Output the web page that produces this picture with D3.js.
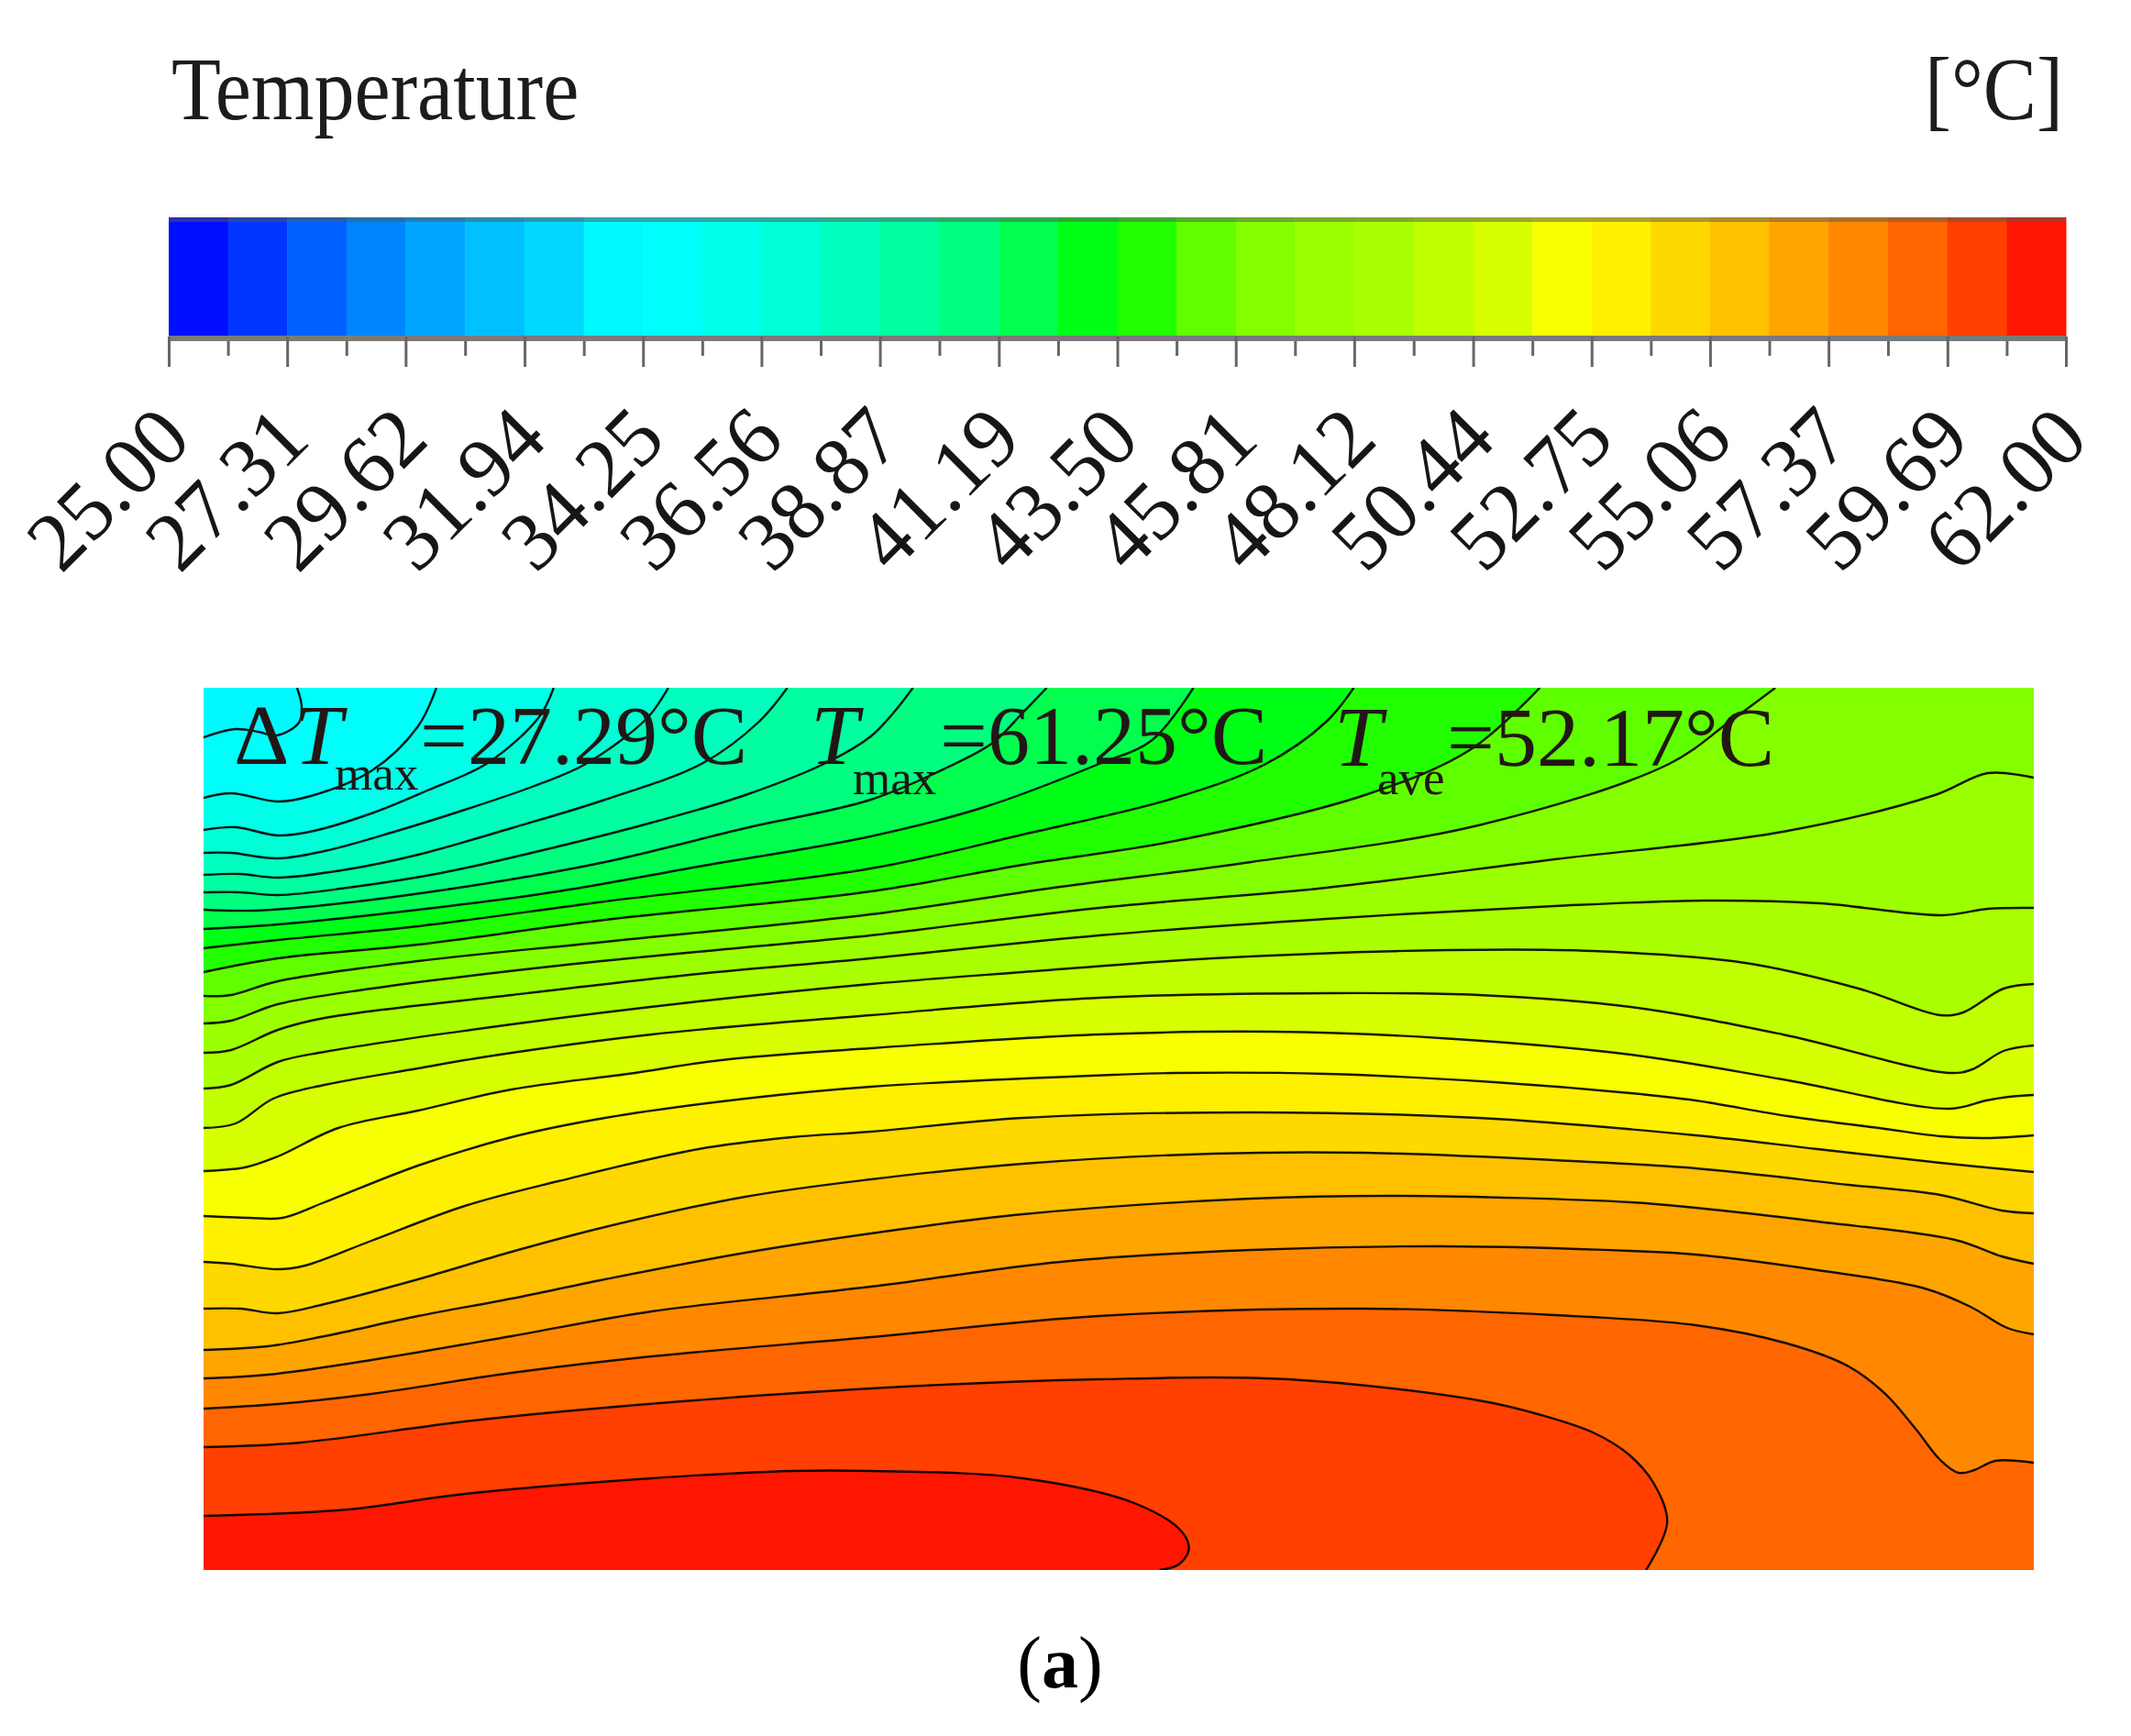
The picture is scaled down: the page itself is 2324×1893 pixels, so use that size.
<!DOCTYPE html>
<html>
<head>
<meta charset="utf-8">
<script src="https://cdn.jsdelivr.net/npm/d3@7"></script>
<style>
  body { margin: 0; background: #fff; }
  text { font-family: "Liberation Serif", serif; }
</style>
</head>
<body>
<div id="chart"></div>
<script>
// colour bar
const tickLabels = ["25.00","27.31","29.62","31.94","34.25","36.56","38.87","41.19","43.50","45.81","48.12","50.44","52.75","55.06","57.37","59.69","62.00"];
const bandColors = ["#0010ff","#0035ff","#0060ff","#0085ff","#00a5ff","#00c0ff","#00d8ff","#00f8ff",
  "#00fffa","#00ffe8","#00ffd6","#00ffbe","#00ffa0","#00ff80","#00ff50","#00ff18",
  "#20ff00","#60ff00","#84ff00","#9cff00","#aaff00","#c0ff00","#d8ff00","#f8ff00",
  "#fff000","#ffd800","#ffc000","#ffa500","#ff8800","#ff6600","#ff4000","#ff1800"];

// contour lines, [x, y] along the domain (y from the top edge)
const line01 = [[0,5.4],[3.5,4.5],[6,4.8],[8,5.2],[10.4,3.8],[10.7,2],[10.2,0]];
const line02 = [[0,12],[3,11.5],[8.1,12.4],[11.7,11.8],[18.4,9],[23.4,4.2],[25.4,0]];
const line03 = [[0,15.5],[3.5,15.2],[8.1,16.1],[11.6,15.7],[18.3,13.7],[24.4,11.2],[31,8.2],[36.6,3.2],[38.2,0]];
const line04 = [[0,18],[3,18],[8.1,18.6],[13.2,17.8],[20.8,15.7],[28.5,13.3],[36.1,10.7],[41.7,8.3],[48.4,3.3],[50.7,0]];
const line05 = [[0,20.4],[4,20.3],[8.1,20.7],[15.7,19.8],[23.4,18.2],[33.6,15.3],[43.8,12.2],[54.5,8.2],[60.6,3.7],[63.7,0]];
const line06 = [[0,22.3],[4,22.3],[8.1,22.6],[15.7,21.8],[25.9,20.2],[38.7,17.3],[48.9,14.7],[59.1,11.7],[68.3,8],[72.8,5.3],[75.3,2.7],[77.4,0]];
const line07 = [[0,24.2],[5.5,24.3],[13.2,23.7],[28.5,21.7],[43.8,19],[59.1,15.3],[72.8,12.2],[81.1,8.7],[86.1,6],[89.4,2.7],[92,0]];
const line08 = [[0,26.3],[8.1,25.8],[23.4,24.2],[38.7,22.2],[54,19.5],[72.8,16.2],[85.2,13],[97.7,8.3],[103.5,5.7],[108,0]];
const line09 = [[0,28.4],[8.1,27.5],[23.4,26],[43.8,23.3],[72.8,19.7],[89.4,16],[106,12],[115.9,8.3],[122.5,3.7],[125.5,0]];
const line10 = [[0,31],[8.1,29.5],[23.4,28],[43.8,25.3],[72.8,22.2],[89.4,19.3],[106,16.7],[126.7,11.7],[138.3,6.7],[145.8,0]];
const line11 = [[0,33.6],[3,33.5],[8.1,32],[23.4,29.8],[43.8,27.7],[72.8,24.7],[93.5,21.7],[114.3,19],[139.1,15],[159.9,8.3],[166.5,3.7],[171.5,0]];
const line12 = [[0,36.6],[3,36.3],[8.1,34.5],[18.3,32.8],[38.7,30.3],[59.1,28.3],[72.8,27],[97.7,24],[122.5,21.8],[147.4,18.7],[172.3,15.7],[188.9,11.7],[194.7,9.3],[199.7,9.8]];
const line13 = [[0,39.8],[3,39.5],[8.1,37.3],[13.2,36],[33.6,33.5],[54,31.2],[72.8,29.5],[97.7,27],[122.5,25.2],[147.4,23.8],[164,23.2],[176.4,23.5],[189.7,24.8],[194.7,24.1],[199.7,24]];
const line14 = [[0,43.7],[3,43.3],[8.1,40.8],[13.2,39.7],[33.6,36.7],[54,34.2],[72.8,32.3],[89.4,31],[110.1,29.5],[135.8,28.6],[151.6,28.7],[168.2,30],[180.6,32.8],[189.5,35.7],[192,35.4],[196.4,32.8],[199.7,32.3]];
const line15 = [[0,48],[3.5,47.5],[7.6,44.8],[13.2,43.3],[23.4,41.5],[31,40.2],[48.9,37.8],[72.8,35.7],[97.7,33.8],[122.5,33.3],[139.1,33.5],[155.7,34.8],[172.3,37.8],[190.5,42],[193,41.6],[196.4,39.6],[199.7,39]];
const line16 = [[0,52.7],[4.5,52.3],[8.1,51.1],[14.7,48],[23.4,46.1],[33.6,43.8],[46.3,42.1],[56.5,40.6],[72.8,39.3],[97.7,37.8],[116.7,37.5],[135,38.2],[155.7,40],[172.3,42.7],[190.5,45.9],[194.5,45],[197,44.6],[199.7,44.4]];
const line17 = [[0,57.6],[5,57.8],[8.6,57.8],[13.2,56.1],[23.4,52.1],[33.6,49],[43.8,46.9],[59.1,44.8],[72.8,43.5],[99.3,42.2],[106,42],[122.5,42.1],[140.8,43],[155.7,44.2],[162.8,45],[172.8,46.7],[182.8,48],[189.5,48.9],[194.5,49.1],[199.7,48.8]];
const line18 = [[0,62.6],[3,62.8],[8.1,63.4],[11.1,63],[18.3,60.3],[28.5,56.5],[38.7,53.8],[54,50.3],[64.2,49],[72.8,48.4],[89.4,46.9],[114.3,46.3],[139.1,46.9],[162.8,48.8],[176.1,50.3],[189.5,51.8],[199.7,52.8]];
const line19 = [[0,67.7],[4,67.7],[8.1,68.2],[13.2,67.2],[23.4,64.5],[33.6,61.5],[43.8,58.8],[59.1,55.5],[72.8,53.6],[89.4,51.9],[110.1,50.8],[126.7,50.7],[147.4,51.5],[162.8,52.4],[179.5,54.2],[189.5,55.3],[196.2,57],[199.7,57.3]];
const line20 = [[0,72.2],[7,71.8],[13.2,70.7],[23.4,68.5],[33.6,66.6],[43.8,64.5],[59.1,61.6],[72.8,59.5],[89.4,57.4],[114.3,55.7],[130.8,55.4],[155.7,56.1],[162.8,56.7],[176.1,58.2],[191.1,60.2],[196.2,62],[199.7,62.8]];
const line21 = [[0,75.3],[7,74.9],[18.3,73.3],[33.6,70.7],[48.9,68],[72.8,65.3],[93.5,62.6],[114.3,61.3],[135,60.9],[155.7,61.4],[162.8,61.8],[176.1,63.5],[187.8,65.5],[192.8,67.5],[196.8,69.8],[199.7,70.5]];
const line22 = [[0,78.6],[8.1,78.1],[18.3,77],[33.6,74.7],[48.9,72.9],[72.8,70.8],[97.7,68.5],[126.7,67.7],[147.4,68.4],[162.8,69.5],[172.8,71.5],[179.5,74],[183.5,77],[186.8,80.8],[189.5,84.2],[191.5,85.6],[193.2,85.3],[195.5,84.3],[199.7,84.5]];
const line23 = [[0,82.8],[10.6,82.3],[28.5,80],[43.8,78.5],[72.8,76.4],[97.7,75.4],[118.4,75.4],[139.1,77.7],[145.6,79.2],[151.6,81.2],[155.5,83.6],[158.2,86.7],[159.7,91],[157.4,96.2]];
const line24 = [[0,90.3],[15.7,89.6],[28.5,87.9],[48.9,86.2],[64.2,85.4],[72.8,85.4],[89.4,86.2],[101.8,89],[106.8,92.1],[107.5,94],[106.4,95.6],[104.3,96.2]];
const contours = [line01,line02,line03,line04,line05,line06,line07,line08,line09,line10,line11,line12,
  line13,line14,line15,line16,line17,line18,line19,line20,line21,line22,line23,line24];

const firstBand = 7; // colour above the first contour
const xMax = 199.7, yMax = 96.2;

var svg = d3.select("#chart").append("svg")
    .attr("width", 2324)
    .attr("height", 1893);

svg.append("filter").attr("id", "soft")
    .attr("x", "-2%").attr("y", "-2%").attr("width", "104%").attr("height", "104%")
    .append("feGaussianBlur").attr("stdDeviation", 0.7);

// ---- colour bar ----
var tickValues = tickLabels.map(Number);
var minorValues = d3.pairs(tickValues).map(function(p){ return (p[0] + p[1]) / 2; });
var edges = d3.merge([tickValues, minorValues]).sort(d3.ascending);

var xBar = d3.scaleLinear().domain([25, 62]).range([184, 2253]);
var barTop = 237, barBottom = 367;

var bar = svg.append("g").attr("filter", "url(#soft)");

bar.selectAll("rect.band")
    .data(bandColors)
    .enter()
    .append("rect")
    .attr("class", "band")
    .attr("x", function(d, i){ return xBar(edges[i]); })
    .attr("y", barTop)
    .attr("width", function(d, i){ return xBar(edges[i + 1]) - xBar(edges[i]) + 0.5; })
    .attr("height", barBottom - barTop)
    .attr("fill", function(d){ return d; });

bar.append("rect")
    .attr("x", xBar(25)).attr("y", barTop)
    .attr("width", xBar(62) - xBar(25)).attr("height", 5)
    .attr("fill", "#555").attr("opacity", 0.5);

var minorAxis = d3.axisBottom(xBar).tickValues(minorValues).tickSize(21).tickFormat("");
var majorAxis = d3.axisBottom(xBar).tickValues(tickValues).tickSize(33)
    .tickFormat(function(d, i){ return tickLabels[i]; });

var gMinor = bar.append("g").attr("transform", "translate(0," + barBottom + ")").call(minorAxis);
var gMajor = bar.append("g").attr("transform", "translate(0," + barBottom + ")").call(majorAxis);

gMinor.select(".domain").remove();
gMajor.select(".domain").attr("d", "M" + xBar(25) + ",2H" + xBar(62))
    .attr("stroke", "#7a7a7a").attr("stroke-width", 6);
gMinor.selectAll("line").attr("stroke", "#666").attr("stroke-width", 3);
gMajor.selectAll("line").attr("stroke", "#666").attr("stroke-width", 3);

gMajor.selectAll("text")
    .attr("x", 0).attr("y", 0).attr("dy", 0)
    .attr("text-anchor", "end")
    .attr("transform", "translate(27,115) rotate(-45)")
    .style("font-size", "91px")
    .style("font-family", "'Liberation Serif', serif")
    .attr("fill", "#151515");

// titles, the source image is stretched a bit in height
svg.append("text")
    .attr("transform", "translate(187,130) scale(0.90,1)")
    .style("font-size", "98px")
    .attr("fill", "#1a1a1a")
    .attr("filter", "url(#soft)")
    .text("Temperature");

svg.append("text")
    .attr("transform", "translate(2250,130) scale(0.89,1)")
    .attr("text-anchor", "end")
    .style("font-size", "98px")
    .attr("fill", "#1a1a1a")
    .attr("filter", "url(#soft)")
    .text("[°C]");

// ---- contour plot ----
var xPlot = d3.scaleLinear().domain([0, xMax]).range([222, 2218]);
var yPlot = d3.scaleLinear().domain([0, yMax]).range([750, 1712]);

var curve = d3.line()
    .x(function(d){ return xPlot(d[0]); })
    .y(function(d){ return yPlot(d[1]); })
    .curve(d3.curveCatmullRom.alpha(0.5));

var straight = d3.line()
    .x(function(d){ return xPlot(d[0]); })
    .y(function(d){ return yPlot(d[1]); });

// everything below/right of a contour, painted top to bottom
function regionPath(pts){
    var end = pts[pts.length - 1];
    var rest;
    if (end[1] === 0) rest = [end, [xMax, 0], [xMax, yMax], [0, yMax]];
    else if (end[1] === yMax) rest = [end, [0, yMax]];
    else rest = [end, [xMax, yMax], [0, yMax]];
    return curve(pts) + "L" + straight(rest).slice(1) + "Z";
}

var plot = svg.append("g").attr("filter", "url(#soft)");

plot.append("clipPath").attr("id", "plotClip")
    .append("rect")
    .attr("x", xPlot(0)).attr("y", yPlot(0))
    .attr("width", xPlot(xMax) - xPlot(0)).attr("height", yPlot(yMax) - yPlot(0));

var inner = plot.append("g").attr("clip-path", "url(#plotClip)");

inner.append("rect")
    .attr("x", xPlot(0)).attr("y", yPlot(0))
    .attr("width", xPlot(xMax) - xPlot(0)).attr("height", yPlot(yMax) - yPlot(0))
    .attr("fill", bandColors[firstBand]);

inner.selectAll("path.region")
    .data(contours)
    .enter()
    .append("path")
    .attr("class", "region")
    .attr("d", regionPath)
    .attr("fill", function(d, i){ return bandColors[firstBand + 1 + i]; });

inner.selectAll("path.contour")
    .data(contours)
    .enter()
    .append("path")
    .attr("class", "contour")
    .attr("d", function(d){ return curve(d); })
    .attr("fill", "none")
    .attr("stroke", "#000")
    .attr("stroke-width", 2.4)
    .attr("stroke-opacity", 0.9);

// annotation inside the plot
const noteParts = [
    {x: 255, t: "Δ", st: "normal", size: 94, y: 833},
    {x: 321, t: "T", st: "italic", size: 94, y: 833},
    {x: 365, t: "max", st: "normal", size: 53, y: 861},
    {x: 458, t: "=27.29°C", st: "normal", size: 92, y: 833},
    {x: 884, t: "T", st: "italic", size: 94, y: 833},
    {x: 930, t: "max", st: "normal", size: 53, y: 866},
    {x: 1025, t: "=61.25°C", st: "normal", size: 92, y: 833},
    {x: 1455, t: "T", st: "italic", size: 94, y: 835},
    {x: 1502, t: "ave", st: "normal", size: 53, y: 866},
    {x: 1578, t: "=52.17°C", st: "normal", size: 92, y: 835}
];

svg.append("g").attr("filter", "url(#soft)").selectAll("text")
    .data(noteParts)
    .enter()
    .append("text")
    .attr("x", function(d){ return d.x; })
    .attr("y", function(d){ return d.y; })
    .style("font-size", function(d){ return d.size + "px"; })
    .style("font-style", function(d){ return d.st; })
    .attr("fill", "#231815")
    .text(function(d){ return d.t; });

// caption
var caption = svg.append("text")
    .attr("x", 1156)
    .attr("y", 1840)
    .attr("text-anchor", "middle")
    .style("font-size", "80px")
    .attr("fill", "#000");
caption.append("tspan").text("(");
caption.append("tspan").style("font-weight", "bold").text("a");
caption.append("tspan").text(")");
</script>
</body>
</html>
